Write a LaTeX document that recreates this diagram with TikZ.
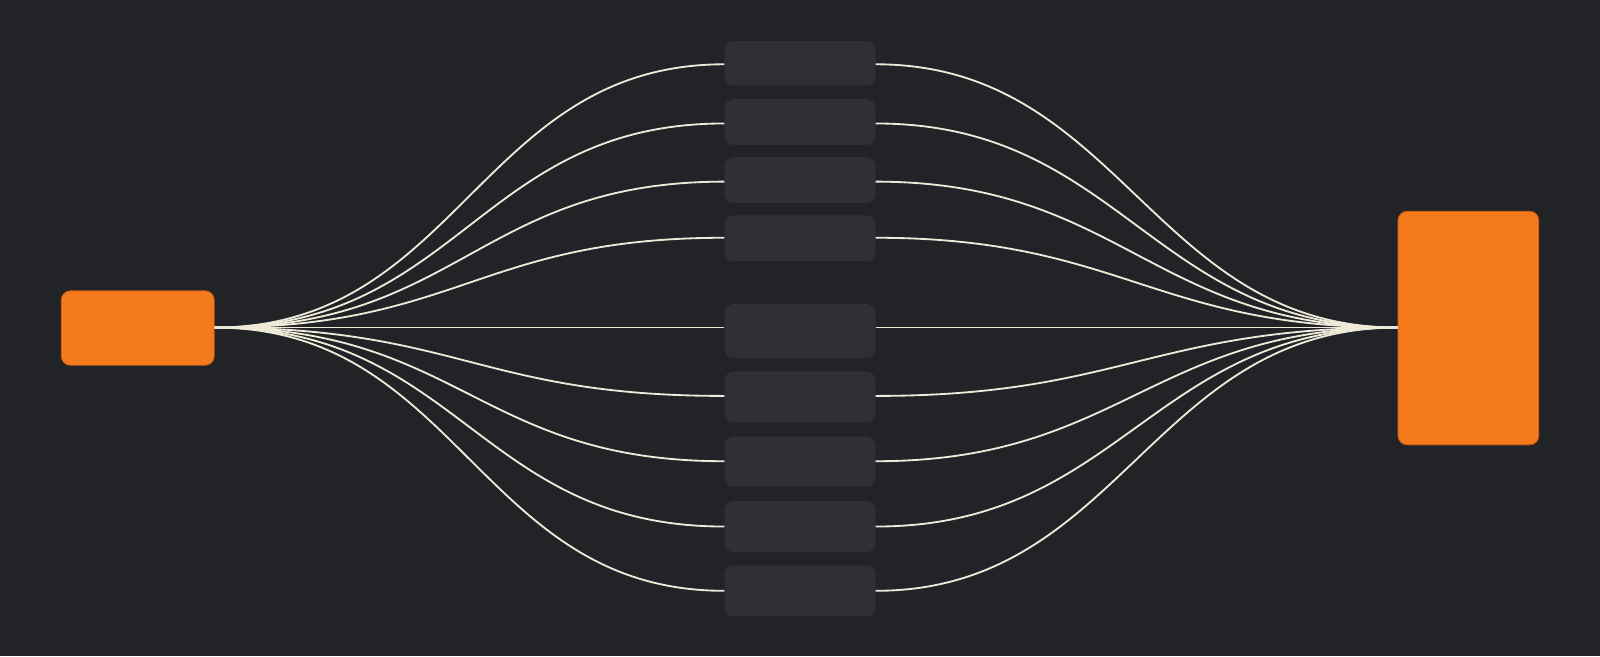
\documentclass[tikz,border=0pt]{standalone}
\usepackage{tikz}
\definecolor{bgc}{HTML}{222327}
\definecolor{boxc}{HTML}{2E3036}
\definecolor{orng}{HTML}{F47A1C}
\definecolor{orngb}{HTML}{B8581A}
\definecolor{wire}{HTML}{EEEAD8}
\tikzset{
  obox/.style={draw=orngb, line width=0.8pt, fill=orng, rounded corners=9pt, inner sep=0pt},
  mbox/.style={fill=boxc, rounded corners=9pt, inner sep=0pt, minimum width=148pt},
  wireline/.style={draw=wire, line width=1.8pt},
}
\begin{document}
\begin{tikzpicture}[x=1pt,y=-1pt]
\fill[bgc] (0,0) rectangle (1568,643);
\useasboundingbox (0,0) rectangle (1568,643);
% orange boxes
\node[obox, minimum width=150pt, minimum height=73pt] (L) at (135,321.5) {};
\node[obox, minimum width=138pt, minimum height=229pt] (R) at (1439,321.5) {};
% middle boxes
\node[mbox, minimum height=44pt] (m1) at (784,62) {};
\node[mbox, minimum height=45pt] (m2) at (784,119.5) {};
\node[mbox, minimum height=45pt] (m3) at (784,176.5) {};
\node[mbox, minimum height=45pt] (m4) at (784,233.5) {};
\node[mbox, minimum height=53pt] (m5) at (784,324.5) {};
\node[mbox, minimum height=50pt] (m6) at (784,389) {};
\node[mbox, minimum height=49pt] (m7) at (784,452.5) {};
\node[mbox, minimum height=50pt] (m8) at (784,516) {};
\node[mbox, minimum height=50pt] (m9) at (784,579) {};
% anchors for wires
\coordinate (Lo) at (L.east |- 0,321);
\coordinate (Ri) at (R.west |- 0,321);
\foreach \n/\y in {1/63,2/121,3/178,4/233,5/321,6/388,7/452,8/516,9/579}{
  \coordinate (a\n) at (m\n.west |- 0,\y);
  \coordinate (b\n) at (m\n.east |- 0,\y);
}
% wires
\foreach \n in {1,2,3,4,6,7,8,9}{
  \draw[wireline] (Lo) .. controls +(240,0) and +(-240,0) .. (a\n);
  \draw[wireline] (b\n) .. controls +(240,0) and +(-240,0) .. (Ri);
}
\draw[wireline] (Lo) -- (a5);
\draw[wireline] (b5) -- (Ri);
\end{tikzpicture}
\end{document}
